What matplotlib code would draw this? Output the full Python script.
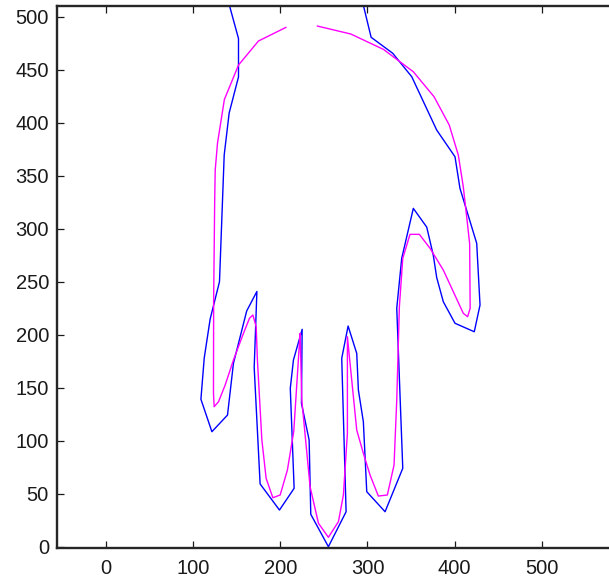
"""
Overlay of two hand contours: the traced outline (blue) and the fitted
model outline (magenta), plotted in image pixel coordinates.
"""

import matplotlib
matplotlib.use("Agg")
import matplotlib.pyplot as plt

# Traced contour (blue); both ends run off the top of the frame
contour_x = [138.6, 152.1, 152.1, 141.4, 135.7, 130.3, 119.6, 112.8, 109.0, 121.6,
             139.5, 146.3, 161.5, 173.2, 170.1, 176.9, 199.1, 215.9, 211.5, 215.1,
             225.1, 224.3, 233.1, 235.0, 255.2, 275.5, 270.5, 277.8, 287.7, 289.6,
             295.3, 299.2, 320.2, 340.5, 333.6, 339.3, 352.6, 368.0, 375.5, 379.4,
             387.0, 400.4, 422.5, 429.1, 425.3, 406.1, 400.4, 379.4, 350.8, 329.0,
             304.2, 292.6]
contour_y = [520.0, 479.4, 443.2, 409.2, 369.5, 250.0, 214.8, 178.0, 139.1, 108.5,
             124.2, 173.0, 222.4, 240.8, 169.1, 59.2, 34.6, 55.1, 149.4, 176.1,
             205.1, 135.3, 100.7, 30.6, 0.0, 33.0, 177.7, 208.2, 182.4, 147.8,
             117.9, 51.9, 33.0, 74.0, 225.0, 272.1, 319.2, 301.5, 275.0, 254.0,
             231.1, 210.8, 202.8, 228.0, 286.2, 338.1, 367.9, 393.1, 443.4, 465.5,
             480.6, 520.0]

# Model contour (magenta); open at the wrist
model_x = [206.4, 175.0, 152.1, 135.9, 128.0, 125.4, 124.8, 123.6, 123.4, 124.2,
           129.2, 136.8, 146.3, 157.8, 164.7, 168.6, 172.4, 173.8, 178.9, 183.8,
           191.5, 199.9, 208.2, 215.5, 222.0, 222.8, 224.7, 234.2, 243.8, 255.2,
           266.7, 272.4, 277.0, 277.0, 287.7, 295.3, 303.0, 312.5, 322.8, 330.5,
           333.6, 336.6, 340.5, 348.8, 359.5, 371.8, 387.0, 409.9, 414.9, 417.8,
           417.2, 413.8, 409.9, 404.2, 393.8, 376.4, 352.6, 318.3, 280.9, 242.6]
model_y = [489.9, 477.1, 454.4, 421.9, 380.6, 355.4, 326.9, 232.7, 144.7, 132.1,
           136.8, 152.5, 176.1, 201.3, 215.5, 218.6, 207.5, 176.1, 100.7, 64.5,
           46.2, 48.8, 72.4, 109.0, 192.0, 201.3, 138.4, 56.6, 22.1, 8.9,
           23.6, 48.8, 107.0, 198.1, 110.1, 88.1, 67.6, 47.8, 48.8, 77.1,
           138.4, 226.4, 272.1, 294.7, 294.7, 281.5, 261.0, 220.2, 217.0, 225.0,
           286.0, 311.3, 339.6, 369.5, 397.8, 424.5, 448.1, 469.2, 483.7, 491.2]

x_ticks = [0, 100, 200, 300, 400, 500]
y_ticks = [0, 50, 100, 150, 200, 250, 300, 350, 400, 450, 500]


def main():
    plt.rcParams["font.family"] = ["Liberation Sans", "DejaVu Sans"]

    fig = plt.figure(figsize=(6.09, 5.82), dpi=100)
    # axes runs past the right edge of the canvas
    ax = fig.add_axes([0.0941, 0.0579, 0.9388, 0.9323])

    ax.plot(contour_x, contour_y, color="#0000ff", linewidth=1.0)
    ax.plot(model_x, model_y, color="#ff00ff", linewidth=1.0)

    ax.set_xlim(-55.7, 600)
    ax.set_ylim(-1.5, 510.4)
    ax.set_xticks(x_ticks)
    ax.set_yticks(y_ticks)

    ax.tick_params(direction="in", top=True, right=True, length=5,
                   width=0.9, labelsize=14.5, colors="#1a1a1a")
    ax.tick_params(axis="y", pad=6)
    ax.tick_params(axis="x", pad=8)

    for side in ("left", "top", "bottom", "right"):
        ax.spines[side].set_linewidth(1.7)
        ax.spines[side].set_color("#262626")

    fig.savefig("out.png", dpi=100)


if __name__ == "__main__":
    main()
